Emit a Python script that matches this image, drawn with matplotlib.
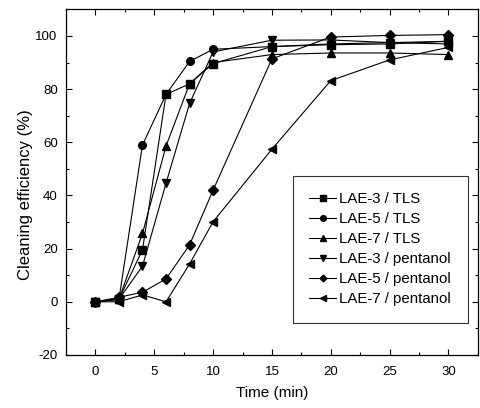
import numpy as np
import matplotlib
matplotlib.use("Agg")
import matplotlib.pyplot as plt
from matplotlib.ticker import MultipleLocator

plt.rcParams["font.family"] = ["Liberation Sans", "DejaVu Sans"]
plt.rcParams["axes.unicode_minus"] = False

time = [0, 2, 4, 6, 8, 10, 15, 20, 25, 30]
lae3_tls = [0, 1, 19.5, 78, 82, 89.6, 96, 96.7, 97, 98]
lae5_tls = [0, 1, 59, 78, 90.4, 95, 96, 97, 97.5, 98]
lae7_tls = [0, 1, 25.7, 58.6, 82, 90, 93, 93.6, 93.6, 93]
lae3_pent = [0, 1, 13.4, 44.6, 74.6, 94, 98.4, 98.5, 97.5, 97]
lae5_pent = [0, 1.7, 3.6, 8.6, 21.4, 42, 91.4, 99.6, 100.2, 100.5]
lae7_pent = [0, 0, 2.6, 0, 14.2, 30.1, 57.4, 83.2, 91, 95.7]

series = [
    ("LAE-3 / TLS", lae3_tls, "s"),
    ("LAE-5 / TLS", lae5_tls, "o"),
    ("LAE-7 / TLS", lae7_tls, "^"),
    ("LAE-3 / pentanol", lae3_pent, "v"),
    ("LAE-5 / pentanol", lae5_pent, "D"),
    ("LAE-7 / pentanol", lae7_pent, "<"),
]

fig = plt.figure(figsize=(4.8, 4.08), dpi=100)
ax = fig.add_axes([0.1375, 0.13, 0.858, 0.847])
for lab, ys, m in series:
    ms = 4.6 if m == "D" else 5.5
    ax.plot(time, ys, color="black", lw=0.8, marker=m, ms=ms, label=lab)

ax.set_xlim(-2.5, 32.5)
ax.set_ylim(-20, 110)
ax.xaxis.set_major_locator(MultipleLocator(5))
ax.xaxis.set_minor_locator(MultipleLocator(2.5))
ax.yaxis.set_major_locator(MultipleLocator(20))
ax.yaxis.set_minor_locator(MultipleLocator(10))
ax.tick_params(which="both", direction="in", top=True, right=True, labelsize=9.5)
ax.tick_params(which="major", length=4, width=0.8)
ax.tick_params(which="minor", length=2.5, width=0.8)
ax.tick_params(axis="x", which="major", pad=8)
ax.tick_params(axis="y", which="major", pad=6)
ax.set_xlabel("Time (min)", fontsize=11)
ax.set_ylabel("Cleaning efficiency (%)", fontsize=12)
ax.xaxis.set_label_coords(0.5, -0.09)
ax.yaxis.set_label_coords(-0.08, 0.463)
for s in ax.spines.values():
    s.set_linewidth(0.9)

leg = ax.legend(loc="upper left", bbox_to_anchor=(0.551, 0.518), fontsize=10.8,
                frameon=True, fancybox=False, handlelength=1.75, markerscale=0.75,
                borderpad=1.1, labelspacing=0.4, handletextpad=0.25,
                borderaxespad=0)
leg.get_frame().set_edgecolor("#333333")
leg.get_frame().set_linewidth(0.8)
leg.get_frame().set_alpha(1)

fig.savefig("out.png", dpi=100)
